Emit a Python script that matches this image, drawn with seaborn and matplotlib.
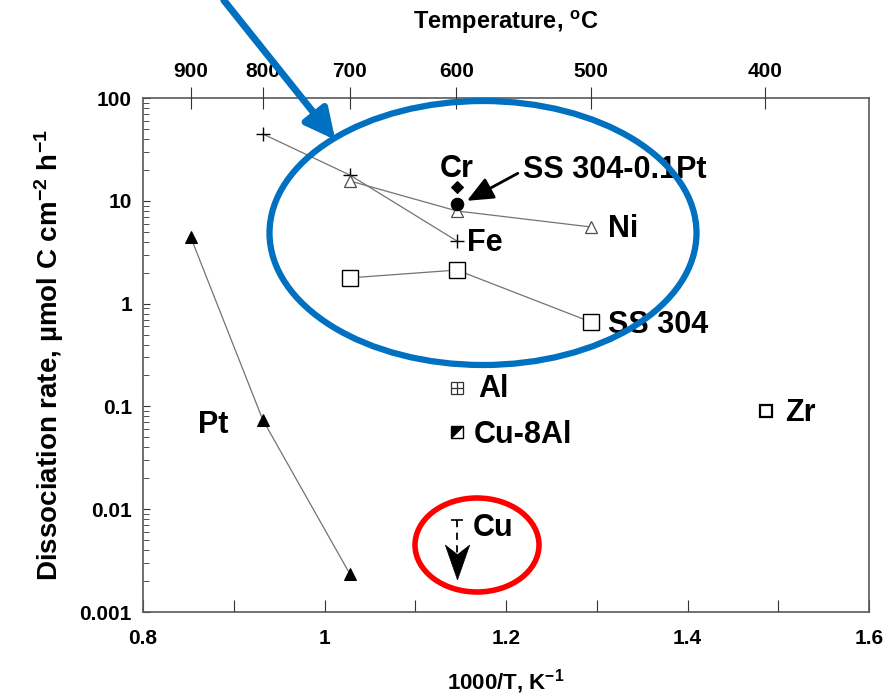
import numpy as np
import pandas as pd
import matplotlib
matplotlib.use("Agg")
import matplotlib.pyplot as plt
import seaborn as sns
from matplotlib.patches import Ellipse, FancyArrowPatch
from matplotlib.ticker import FixedLocator, NullFormatter, LogLocator

sns.set_theme(style="white")
plt.rcParams['font.family'] = ['Liberation Sans', 'DejaVu Sans']
plt.rcParams['font.weight'] = 'bold'
plt.rcParams['text.color'] = 'black'
plt.rcParams['axes.labelcolor'] = 'black'
plt.rcParams['xtick.color'] = 'black'
plt.rcParams['ytick.color'] = 'black'
plt.rcParams['mathtext.fontset'] = 'custom'
plt.rcParams['mathtext.rm'] = 'Liberation Sans:bold'
plt.rcParams['mathtext.it'] = 'Liberation Sans:bold'

# ---- data (1000/T in K^-1, rate in umol C cm^-2 h^-1) ----
fe_x = [0.932, 1.028, 1.146]
fe_y = [44.7, 17.8, 4.06]
ni_x = [1.028, 1.146, 1.294]
ni_y = [15.6, 7.96, 5.56]
ss_x = [1.028, 1.146, 1.294]
ss_y = [1.78, 2.12, 0.66]
pt_x = [0.8525, 0.932, 1.028]
pt_y = [4.45, 0.074, 0.00234]
cr_x, cr_y = [1.146], [13.6]
sspt_x, sspt_y = [1.146], [9.3]
al_x, al_y = [1.146], [0.151]
cu8al_x, cu8al_y = [1.146], [0.0564]
cu_x, cu_y = [1.146], [0.0078]
cu_arrow_to = 0.0023
zr_x, zr_y = [1.487], [0.090]

temps_c = [900, 800, 700, 600, 500, 400]
x_ticks = [0.8, 1.0, 1.2, 1.4, 1.6]
x_ticklabels = ['0.8', '1', '1.2', '1.4', '1.6']
y_ticks = [0.001, 0.01, 0.1, 1, 10, 100]
y_ticklabels = ["0.001", "0.01", "0.1", "1", "10", "100"]

fig = plt.figure(figsize=(8.89, 7.0), dpi=100)
W, H = 889, 700
ax = fig.add_axes([143 / W, 1 - 612 / H, (869 - 143) / W, (612 - 98) / H])

line_kw = dict(color='0.45', lw=0.9, sort=False, estimator=None, ax=ax, legend=False)

sns.lineplot(x=fe_x, y=fe_y, marker='+', ms=10, mew=1.0, mec='black', **line_kw)
sns.lineplot(x=ni_x, y=ni_y, marker='^', ms=9, mfc='white', mec='0.3', mew=0.9, **line_kw)
sns.lineplot(x=ss_x, y=ss_y, marker='s', ms=11, mfc='white', mec='black', mew=1.0, **line_kw)
sns.lineplot(x=pt_x, y=pt_y, marker='^', ms=8, mfc='black', mec='black', **line_kw)

pts_kw = dict(ax=ax, legend=False, color='black')
sns.lineplot(x=cr_x, y=cr_y, marker='D', ms=6, mfc='black', mec='black', lw=0, **pts_kw)
sns.lineplot(x=sspt_x, y=sspt_y, marker='o', ms=9, mfc='black', mec='black', lw=0, **pts_kw)
sns.lineplot(x=al_x, y=al_y, marker='s', ms=9, mfc='white', mec='0.2', mew=0.9, lw=0, **pts_kw)
sns.lineplot(x=al_x, y=al_y, marker='+', ms=9, mec='0.2', mew=0.9, lw=0, **pts_kw)
sns.lineplot(x=cu8al_x, y=cu8al_y, marker='s', ms=9, mfc='white', mec='black', mew=1.0, lw=0, **pts_kw)
sns.lineplot(x=cu8al_x, y=cu8al_y, marker=[(-1, 1), (1, 1), (-1, -1)], ms=8, mfc='black',
             mec='black', mew=0.5, lw=0, **pts_kw)
sns.lineplot(x=cu_x, y=cu_y, marker='_', ms=9, mec='black', mew=1.2, lw=0, **pts_kw)
sns.lineplot(x=zr_x, y=zr_y, marker='s', ms=8, mfc='white', mec='black', mew=1.6, lw=0, **pts_kw)

# Cu upper-limit arrow: dashed shaft + notched (stealth) head ending at cu_arrow_to
head_ms = 25
head_center = cu_arrow_to * 1.323
ax.plot([cu_x[0], cu_x[0]], [cu_y[0], head_center * 0.95], color='black', lw=1.3, ls=(0, (4, 3)))
stealth = [(0, -1), (0.7, 1), (0, 0.45), (-0.7, 1), (0, -1)]
sns.lineplot(x=cu_x, y=[head_center], marker=stealth, ms=head_ms, mfc='black', mec='black',
             mew=0.5, lw=0, **pts_kw)

ax.set_yscale('log')
ax.set_xlim(0.8, 1.6)
ax.set_ylim(0.001, 100)
ax.set_xticks(x_ticks)
ax.set_xticklabels(x_ticklabels)
ax.xaxis.set_minor_locator(FixedLocator([0.9, 1.1, 1.3, 1.5]))
ax.set_yticks(y_ticks)
ax.set_yticklabels(y_ticklabels)
ax.yaxis.set_minor_locator(LogLocator(base=10, subs=np.arange(2, 10)))
ax.yaxis.set_minor_formatter(NullFormatter())
ax.tick_params(axis='x', which='both', direction='in', length=9, width=0.8, color='0.2',
               labelsize=15, pad=12, bottom=True)
ax.tick_params(axis='y', which='major', direction='in', length=5, width=0.8, color='0.2',
               labelsize=15, pad=8, left=True)
ax.tick_params(axis='y', which='minor', direction='in', length=4, width=0.6, color='0.2', left=True)
for s in ax.spines.values():
    s.set_color('0.35')
    s.set_linewidth(1.2)

ax.set_xlabel('1000/T, K$^{-1}$', fontsize=16, fontweight='bold', labelpad=14)
ax.set_ylabel('Dissociation rate, µmol C cm$^{-2}$ h$^{-1}$', fontsize=20, fontweight='bold', labelpad=10)

# top temperature axis
top = ax.twiny()
top.set_xlim(ax.get_xlim())
top.set_xticks([1000 / (t + 273.15) for t in temps_c])
top.set_xticklabels([str(t) for t in temps_c])
top.tick_params(axis='x', direction='inout', length=16, width=0.8, color='0.2', labelsize=15, pad=4)
top.set_xlabel('Temperature, $^{\\mathrm{o}}$C', fontsize=17, fontweight='bold', labelpad=24)
top.grid(False)
for s in top.spines.values():
    s.set_visible(False)

# labels
tk = dict(fontsize=22, fontweight='bold', color='black')
ax.text(1.146, 20.5, 'Cr', ha='center', va='center', **tk)
ax.text(1.219, 19.9, 'SS 304-0.1Pt', ha='left', va='center', **tk)
ax.annotate('', xy=(1.157, 10.0), xytext=(1.213, 18.5),
            arrowprops=dict(arrowstyle='-|>,head_length=0.8,head_width=0.35', color='black', lw=2.0,
                            mutation_scale=20, shrinkA=0, shrinkB=0))
ax.text(1.312, 5.32, 'Ni', ha='left', va='center', **tk)
ax.text(1.157, 3.88, 'Fe', ha='left', va='center', **tk)
ax.text(1.312, 0.62, 'SS 304', ha='left', va='center', **tk)
ax.text(1.169, 0.148, 'Al', ha='left', va='center', **tk)
ax.text(1.165, 0.0527, 'Cu-8Al', ha='left', va='center', **tk)
ax.text(1.163, 0.00656, 'Cu', ha='left', va='center', **tk)
ax.text(1.508, 0.0863, 'Zr', ha='left', va='center', **tk)
ax.text(0.877, 0.066, 'Pt', ha='center', va='center', **tk)

# annotation overlays in figure pixel space
def fx(px):
    return px / W

def fy(py):
    return 1 - py / H

fig.patches.append(Ellipse((fx(483), fy(233)), 427 / W, 264 / H, transform=fig.transFigure,
                           fill=False, edgecolor='#0070C0', lw=4.5, zorder=10))
fig.patches.append(Ellipse((fx(477), fy(545)), 124 / W, 94 / H, transform=fig.transFigure,
                           fill=False, edgecolor='#FF0000', lw=4.0, zorder=10))
fig.patches.append(FancyArrowPatch((fx(222), fy(-2)), (fx(337), fy(142)), transform=fig.transFigure,
                                   arrowstyle='-|>,head_length=0.9,head_width=0.45', mutation_scale=20,
                                   color='#0070C0', lw=5, zorder=10))

fig.savefig('out.png', dpi=100)
